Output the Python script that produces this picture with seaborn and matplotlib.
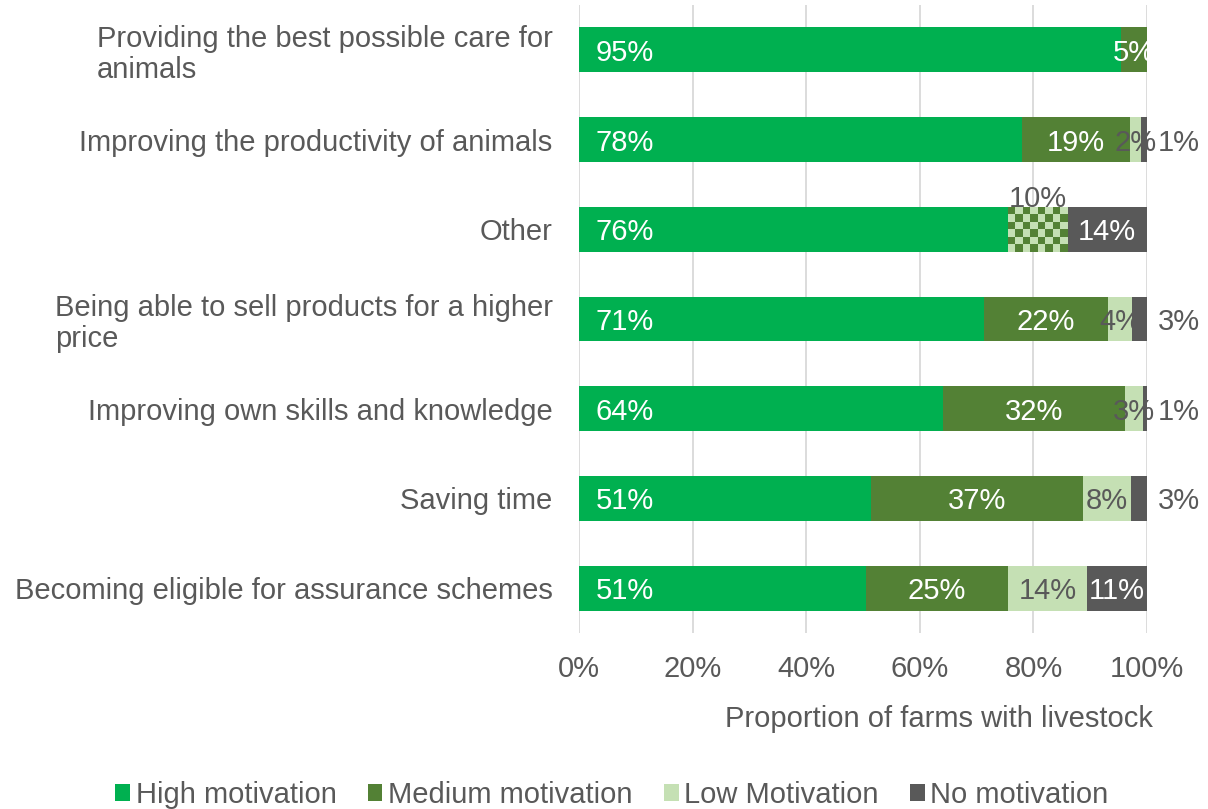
import numpy as np
import pandas as pd
import matplotlib
matplotlib.use("Agg")
import matplotlib.pyplot as plt
from matplotlib.patches import Patch
from matplotlib.colors import ListedColormap
import seaborn as sns

# ---- data (percent of farms with livestock) ----
categories = [
    "Providing the best possible care for\nanimals",
    "Improving the productivity of animals",
    "Other",
    "Being able to sell products for a higher\nprice",
    "Improving own skills and knowledge",
    "Saving time",
    "Becoming eligible for assurance schemes",
]
high = [95.4, 78.0, 75.6, 71.3, 64.1, 51.4, 50.6]
medium = [4.6, 19.0, 0.0, 21.8, 32.0, 37.4, 24.9]
medium_low = [0.0, 0.0, 10.4, 0.0, 0.0, 0.0, 0.0]   # combined medium/low response
low = [0.0, 2.0, 0.0, 4.3, 3.2, 8.4, 13.9]
none = [0.0, 1.0, 14.0, 2.6, 0.7, 2.8, 10.6]

series_names = ["High motivation", "Medium motivation", "Low Motivation", "No motivation"]
xticks = [0, 20, 40, 60, 80, 100]
xtick_labels = ["0%", "20%", "40%", "60%", "80%", "100%"]
xlabel = "Proportion of farms with livestock"

C_HIGH = "#00B050"
C_MED = "#538135"
C_LOW = "#C5E0B4"
C_NONE = "#595959"
C_TEXT = "#595959"

sns.set_theme(style="white")
plt.rcParams["font.family"] = ["Liberation Sans", "DejaVu Sans"]

fig = plt.figure(figsize=(12.08, 8.09), dpi=100)
ax = fig.add_axes([579 / 1208, 176 / 809, 568 / 1208, 628 / 809])

layers = [
    ("high", high, C_HIGH),
    ("medium", medium, C_MED),
    ("medium_low", medium_low, C_LOW),
    ("low", low, C_LOW),
    ("none", none, C_NONE),
]
df = pd.DataFrame({"category": categories})
running = np.zeros(len(categories))
for name, vals, _ in layers:
    df[name + "_left"] = running.copy()
    running = running + np.array(vals)
    df[name + "_cum"] = running.copy()

# stacked bars drawn as cumulative totals, outermost first
container_index = {}
for name, vals, color in reversed(layers):
    sns.barplot(data=df, x=name + "_cum", y="category", orient="h", color=color,
                saturation=1, width=0.5, errorbar=None, ax=ax, linewidth=0)
    container_index[name] = len(ax.containers) - 1

# checkerboard fill for the combined medium/low segment
cmap = ListedColormap([C_MED, C_LOW])
for i, v in enumerate(medium_low):
    if v <= 0:
        continue
    patch = ax.containers[container_index["medium_low"]].patches[i]
    left = df.loc[i, "medium_low_left"]
    right = df.loc[i, "medium_low_cum"]
    y0, h = patch.get_y(), patch.get_height()
    rows, cols = 6, 8
    board = (np.add.outer(np.arange(rows), np.arange(cols)) % 2).astype(float)
    ax.imshow(board, cmap=cmap, interpolation="nearest", aspect="auto",
              extent=(left, right, y0 + h, y0), zorder=3)

ax.set_xlim(0, 100)
ax.set_ylim(len(categories) - 0.5, -0.5)

# value labels
fs = 21
VA = "center_baseline"
for i in range(len(categories)):
    # high: inside, near the base
    ax.annotate(f"{high[i]:.0f}%", xy=(0, i), xytext=(12, 0), textcoords="offset points",
                ha="left", va=VA, color="white", fontsize=fs, zorder=5)
    if medium[i] > 0:
        c = df.loc[i, "medium_left"] + medium[i] / 2
        ax.text(c, i, f"{medium[i]:.0f}%", ha="center", va=VA, color="white",
                fontsize=fs, zorder=5)
    if medium_low[i] > 0:
        c = df.loc[i, "medium_low_left"] + medium_low[i] / 2
        ax.annotate(f"{medium_low[i]:.0f}%", xy=(c, i - 0.25), xytext=(0, 0),
                    textcoords="offset points", ha="center", va="baseline",
                    color=C_TEXT, fontsize=fs, zorder=5)
    if low[i] > 0:
        c = df.loc[i, "low_left"] + low[i] / 2
        ax.text(c, i, f"{low[i]:.0f}%", ha="center", va=VA, color=C_TEXT,
                fontsize=fs, zorder=5)
    if none[i] > 0:
        if none[i] >= 5:
            c = df.loc[i, "none_left"] + none[i] / 2
            ax.text(c, i, f"{none[i]:.0f}%", ha="center", va=VA, color="white",
                    fontsize=fs, zorder=5)
        else:
            ax.annotate(f"{none[i]:.0f}%", xy=(df.loc[i, "none_cum"], i), xytext=(8, 0),
                        textcoords="offset points", ha="left", va=VA,
                        color=C_TEXT, fontsize=fs, zorder=5)

# axes styling
ax.set_xticks(xticks)
ax.set_xticklabels(xtick_labels)
ax.grid(axis="x", color="#D9D9D9", linewidth=1.3)
ax.grid(axis="y", visible=False)
ax.set_axisbelow(True)
for s in ax.spines.values():
    s.set_visible(False)
ax.tick_params(axis="x", length=0, pad=16, labelsize=fs, labelcolor=C_TEXT)
ax.tick_params(axis="y", length=0, pad=19, labelsize=fs, labelcolor=C_TEXT)
for lab in ax.get_yticklabels():
    lab.set_multialignment("left")
    lab.set_linespacing(1.15)
ax.set_ylabel("")
ax.set_xlabel(xlabel, fontsize=fs, color=C_TEXT, ha="right", va="center")
ax.xaxis.set_label_coords(1.01, -0.137)

handles = [Patch(facecolor=c, edgecolor="none") for c in (C_HIGH, C_MED, C_LOW, C_NONE)]
fig.legend(handles, series_names, loc="center", bbox_to_anchor=(612 / 1208, 1 - 795 / 809),
           ncol=4, frameon=False, fontsize=fs, labelcolor=C_TEXT,
           handlelength=0.5, handleheight=0.5, handletextpad=0.2, columnspacing=1.07)

fig.savefig("out.png", dpi=100)
